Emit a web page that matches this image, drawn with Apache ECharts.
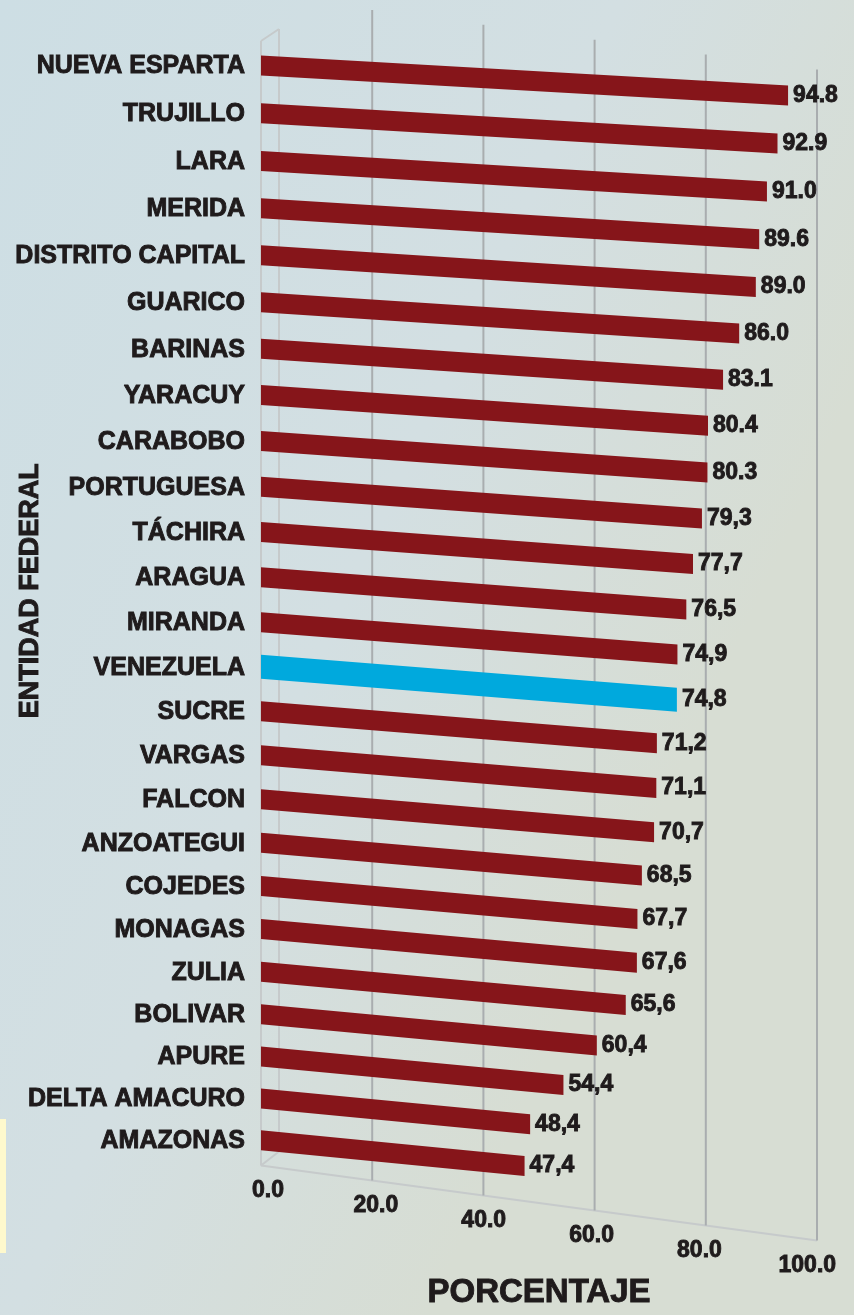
<!DOCTYPE html>
<html lang="es">
<head>
<meta charset="UTF-8">
<title>Entidad federal - porcentaje</title>
<script src="https://cdn.jsdelivr.net/npm/echarts@6/dist/echarts.min.js"></script>
<style>
  html, body { margin: 0; padding: 0; }
  #main { width: 854px; height: 1315px; }
</style>
</head>
<body>
<div id="main"></div>
<script>
var categories = ['NUEVA ESPARTA', 'TRUJILLO', 'LARA', 'MERIDA', 'DISTRITO CAPITAL', 'GUARICO',
  'BARINAS', 'YARACUY', 'CARABOBO', 'PORTUGUESA', 'TÁCHIRA', 'ARAGUA', 'MIRANDA', 'VENEZUELA',
  'SUCRE', 'VARGAS', 'FALCON', 'ANZOATEGUI', 'COJEDES', 'MONAGAS', 'ZULIA', 'BOLIVAR', 'APURE',
  'DELTA AMACURO', 'AMAZONAS'];
var values = [94.8, 92.9, 91.0, 89.6, 89.0, 86.0, 83.1, 80.4, 80.3, 79.3, 77.7, 76.5, 74.9, 74.8,
  71.2, 71.1, 70.7, 68.5, 67.7, 67.6, 65.6, 60.4, 54.4, 48.4, 47.4];
var valueLabels = ['94.8', '92.9', '91.0', '89.6', '89.0', '86.0', '83.1', '80.4', '80.3', '79,3',
  '77,7', '76,5', '74,9', '74,8', '71,2', '71,1', '70,7', '68,5', '67,7', '67,6', '65,6', '60,4',
  '54,4', '48,4', '47,4'];
var tickValues = [0, 20, 40, 60, 80, 100];
var tickLabels = ['0.0', '20.0', '40.0', '60.0', '80.0', '100.0'];
var highlight = 'VENEZUELA';

var FONT = "'Liberation Sans', Arial, Helvetica, sans-serif";
var TEXT = '#1f1b1c';
var RED = '#86151a';
var BLUE = '#00a9dd';
var GRID = '#a9adaf';
var WALL = '#c6cacb';
var HEAVY = 0.9; // thin outline so the bold text looks as heavy as the original

// fake 3d look: rows bunch up toward the bottom, bars tilt down to the right
var bow = 0.135;
function rowY(y, cs, band) {
  var f = (y - cs.y) / band - 0.5;
  return y + bow * f * (categories.length - 1 - f);
}
function floorY(x, cs) { return cs.y + cs.height + 3 + 0.135 * (x - cs.x); }
function wallTopY(x, cs) { return cs.y - 48 + 0.134 * (x - cs.x); }

var chart = echarts.init(document.getElementById('main'));

function renderBar(params, api) {
  var i = params.dataIndex;
  var cs = params.coordSys;
  var band = api.size([0, 1])[1];
  var start = api.coord([0, i]);
  var end = api.coord([api.value(0), i]);
  var cy = rowY(start[1], cs, band);
  var isHi = categories[i] === highlight;
  var h = isHi ? 24 : 20;
  var slope = 0.057 + 0.0017 * i;
  var d = slope * (end[0] - start[0]);
  var top = cy - h / 2;
  return {
    type: 'group',
    children: [
      {
        type: 'polygon',
        shape: { points: [[start[0], top], [end[0], top + d], [end[0], top + h + d], [start[0], top + h]] },
        style: { fill: isHi ? BLUE : RED }
      },
      {
        type: 'text',
        style: {
          text: valueLabels[i], x: end[0] + 5, y: cy + d,
          align: 'left', verticalAlign: 'middle',
          font: 'bold 23px ' + FONT, fill: TEXT,
          stroke: TEXT, lineWidth: HEAVY
        }
      },
      {
        type: 'text',
        style: {
          text: categories[i], x: start[0] - 16, y: cy + 1,
          align: 'right', verticalAlign: 'middle',
          font: 'bold 25px ' + FONT, fill: TEXT,
          stroke: TEXT, lineWidth: HEAVY
        }
      }
    ]
  };
}

function renderGridLine(params, api) {
  var cs = params.coordSys;
  var x = api.coord([api.value(0), 0])[0];
  if (api.value(0) === 0) {
    // left side wall and floor edge
    var x1 = x + 18;
    var xr = cs.x + cs.width;
    var s = { stroke: WALL, lineWidth: 2, fill: null };
    return {
      type: 'group',
      children: [
        { type: 'line', shape: { x1: x, y1: cs.y - 2, x2: x, y2: floorY(x, cs) }, style: s },
        { type: 'line', shape: { x1: x1, y1: cs.y - 14, x2: x1, y2: floorY(x, cs) - 14 }, style: s },
        { type: 'line', shape: { x1: x, y1: cs.y - 2, x2: x1, y2: cs.y - 14 }, style: s },
        { type: 'line', shape: { x1: x, y1: floorY(x, cs), x2: x1, y2: floorY(x, cs) - 14 }, style: s },
        { type: 'line', shape: { x1: x, y1: floorY(x, cs), x2: xr, y2: floorY(xr, cs) }, style: s }
      ]
    };
  }
  return {
    type: 'line',
    shape: { x1: x, y1: wallTopY(x, cs), x2: x, y2: floorY(x, cs) },
    style: { stroke: GRID, lineWidth: 2 }
  };
}

function renderTick(params, api) {
  var cs = params.coordSys;
  var x = api.coord([api.value(0), 0])[0];
  var tx = x + 7 - 0.03 * (x - cs.x);
  return {
    type: 'text',
    style: {
      text: tickLabels[params.dataIndex], x: tx, y: floorY(x, cs) + 25,
      align: 'center', verticalAlign: 'middle',
      font: 'bold 23px ' + FONT, fill: TEXT,
      stroke: TEXT, lineWidth: HEAVY
    }
  };
}

var option = {
  animation: false,
  graphic: [
    {
      type: 'rect', z: -10, silent: true,
      shape: { x: 0, y: 0, width: 854, height: 1315 },
      style: {
        fill: new echarts.graphic.LinearGradient(0, 0, 1, 0.3, [
          { offset: 0, color: '#cddee4' },
          { offset: 0.6, color: '#d3dfe2' },
          { offset: 1, color: '#d7ddd3' }
        ])
      }
    },
    {
      type: 'rect', z: -9, silent: true,
      shape: { x: 0, y: 1119, width: 6, height: 134 },
      style: { fill: '#fef9cd' }
    }
  ],
  grid: { left: 261, right: 37, top: 43, height: 1132 },
  xAxis: {
    type: 'value', min: 0, max: 100, interval: 20,
    axisLine: { show: false }, axisTick: { show: false },
    axisLabel: { show: false }, splitLine: { show: false },
    name: 'PORCENTAJE', nameLocation: 'middle', nameGap: 114,
    nameTextStyle: {
      fontFamily: FONT, fontWeight: 'bold', fontSize: 33, color: TEXT,
      textBorderColor: TEXT, textBorderWidth: HEAVY
    }
  },
  yAxis: {
    type: 'category', data: categories, inverse: true,
    axisLine: { show: false }, axisTick: { show: false },
    axisLabel: { show: false }, splitLine: { show: false },
    name: 'ENTIDAD FEDERAL', nameLocation: 'middle', nameRotate: 90, nameGap: 217,
    nameTextStyle: {
      fontFamily: FONT, fontWeight: 'bold', fontSize: 27, color: TEXT, padding: [0, 0, 0, 24],
      textBorderColor: TEXT, textBorderWidth: HEAVY
    }
  },
  series: [
    {
      type: 'custom', name: 'grid', z: 1, clip: false, silent: true,
      renderItem: renderGridLine,
      data: tickValues.map(function (v) { return [v, 0]; }),
      encode: { x: 0, y: 1 }
    },
    {
      type: 'custom', name: 'porcentaje', z: 2, clip: false,
      renderItem: renderBar,
      data: values.map(function (v, i) { return [v, i]; }),
      encode: { x: 0, y: 1 }
    },
    {
      type: 'custom', name: 'ticks', z: 3, clip: false, silent: true,
      renderItem: renderTick,
      data: tickValues.map(function (v) { return [v, 0]; }),
      encode: { x: 0, y: 1 }
    }
  ]
};

chart.setOption(option);
</script>
</body>
</html>
